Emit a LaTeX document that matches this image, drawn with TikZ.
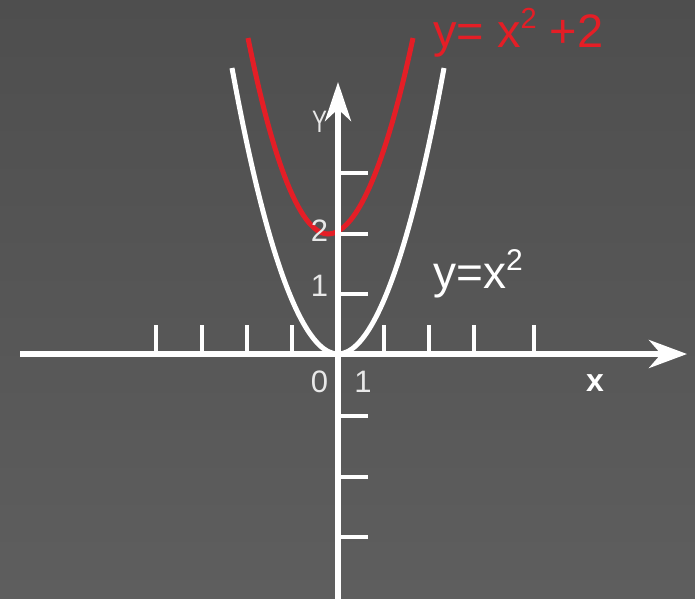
\documentclass[tikz,border=0pt]{standalone}
\usepackage{fontspec}
\setmainfont{Liberation Sans}
\usetikzlibrary{arrows.meta}
\definecolor{bgtop}{RGB}{78,78,78}
\definecolor{bgbot}{RGB}{94,94,94}
\definecolor{curvered}{RGB}{228,30,38}
\definecolor{lbl}{RGB}{232,232,232}
\begin{document}
\begin{tikzpicture}[x=1pt,y=-1pt,
  axis/.style={white, line width=5.5pt},
  tickmark/.style={white, line width=4.5pt},
  curve/.style={line width=5pt},
  lab/.style={lbl, font=\fontsize{31}{31}\selectfont, inner sep=0pt}]
\shade[top color=bgtop, bottom color=bgbot] (0,0) rectangle (695,598);
\useasboundingbox (0,0) rectangle (695,598);
% curves
\coordinate (wl) at (232,68);
\coordinate (wv) at (338,354);
\coordinate (wr) at (444,68);
\coordinate (rl) at (248,38);
\coordinate (rv) at (328,234);
\coordinate (rr) at (413,38);
\draw[curve, white] (wl) parabola bend (wv) (wr);
\draw[curve, curvered] (rl) parabola bend (rv) (rr);
% axes
\coordinate (xl) at (20,354);
\coordinate (xr) at (687,354);
\coordinate (yb) at (338,600);
\coordinate (yt) at (338,82);
\draw[axis, -{Stealth[length=38pt, width=28pt, inset=12pt]}] (xl) -- (xr);
\draw[axis, -{Stealth[length=39pt, width=26pt, inset=12pt]}] (yb) -- (yt);
\foreach \x in {156,202,247,292,384,429,474,534}
  \draw[tickmark] (\x,354) -- (\x,325);
\foreach \y in {173,234,294,416,477,537}
  \draw[tickmark] (338,\y) -- (368,\y);
% labels
\node[anchor=base west, curvered, inner sep=0pt, font=\fontsize{47}{47}\selectfont] (eqred) at (433,47)
  {y= x\raisebox{19pt}{\fontsize{29}{29}\selectfont 2} +2};
\node[anchor=base west, white, inner sep=0pt, font=\fontsize{46}{46}\selectfont] (eqwhite) at (433,288)
  {y=x\raisebox{18pt}{\fontsize{30}{30}\selectfont 2}};
\node[lab] (lY) at (319.5,121.5) {\scalebox{0.72}[1]{Y}};
\node[lab] (l2) at (319.5,231) {2};
\node[lab] (l1) at (319.5,286) {1};
\node[lab] (l0) at (319.5,381.5) {0};
\node[lab] (l1x) at (363,381.5) {1};
\node[white, inner sep=0pt, font=\fontsize{32}{32}\selectfont\bfseries] (lx) at (595,383) {x};
\end{tikzpicture}
\end{document}
